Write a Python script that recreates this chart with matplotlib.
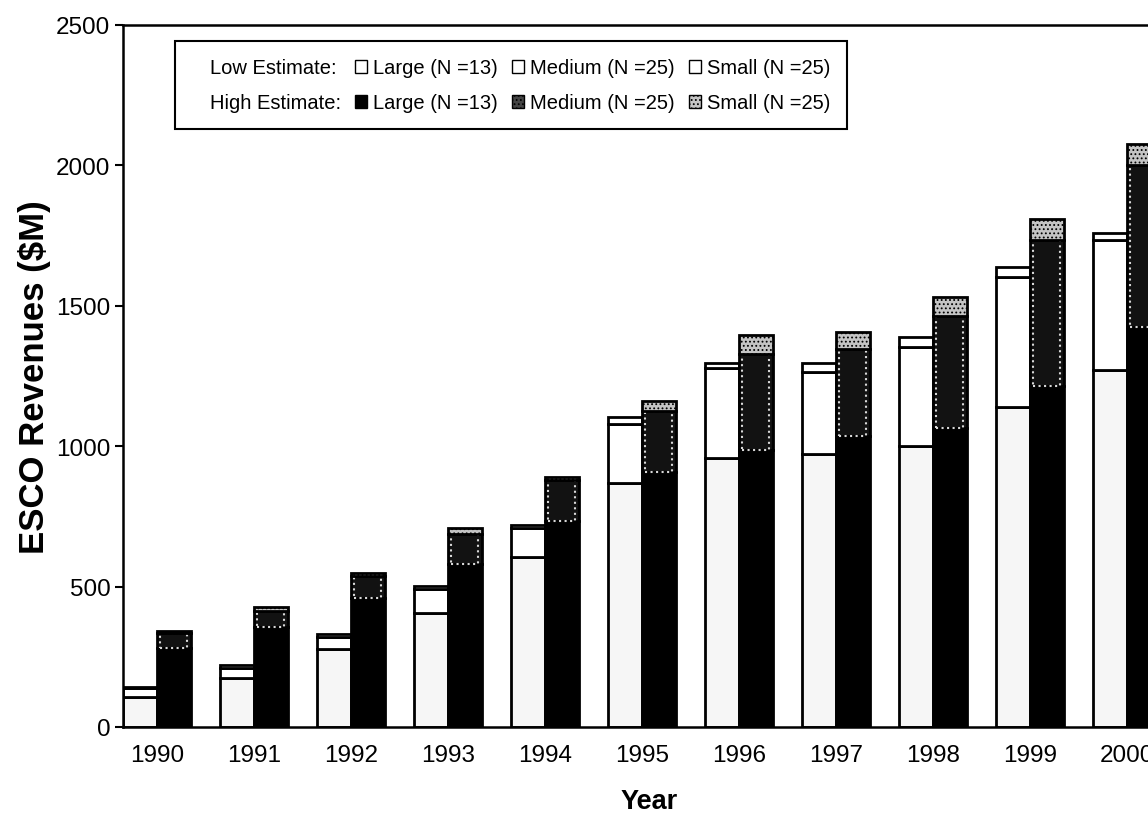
import numpy as np
import matplotlib.pyplot as plt
from matplotlib.patches import Patch
from matplotlib.lines import Line2D

plt.rcParams['font.family'] = ['Liberation Sans', 'DejaVu Sans']
plt.rcParams['hatch.linewidth'] = 0.8

# values ($M)
years = ['1990', '1991', '1992', '1993', '1994', '1995', '1996', '1997', '1998', '1999', '2000']

low_large = [108, 175, 276, 407, 606, 869, 959, 973, 1000, 1139, 1270]
low_medium = [31, 34, 46, 84, 104, 209, 320, 291, 352, 462, 465]
low_small = [5, 11, 8, 12, 11, 25, 17, 32, 38, 38, 24]

high_large = [282, 357, 461, 580, 733, 908, 985, 1035, 1064, 1216, 1425]
high_medium = [52, 57, 76, 109, 145, 219, 345, 311, 401, 519, 578]
high_small = [8, 12, 12, 18, 12, 33, 66, 60, 68, 74, 74]

low_large = np.array(low_large)
low_medium = np.array(low_medium)
low_small = np.array(low_small)
high_large = np.array(high_large)
high_medium = np.array(high_medium)
high_small = np.array(high_small)

x = np.arange(len(years))
w = 0.35
lw = 2.0

fig = plt.figure(figsize=(11.48, 8.2), dpi=100)
ax = fig.add_axes([0.1071, 0.1122, 0.9167, 0.8561])

# low estimate stack (left bar of each pair)
xl = x - w / 2
ax.bar(xl, low_large, w, color='#f6f6f6', edgecolor='black', linewidth=lw)
ax.bar(xl, low_medium, w, bottom=low_large, color='white', edgecolor='black', linewidth=lw)
ax.bar(xl, low_small, w, bottom=low_large + low_medium, color='white', edgecolor='black', linewidth=lw)

# high estimate stack (right bar of each pair)
xh = x + w / 2
ax.bar(xh, high_large, w, color='black', edgecolor='black', linewidth=lw)
ax.bar(xh, high_medium, w, bottom=high_large, color='#121212', edgecolor='black', linewidth=lw)
ax.bar(xh, high_medium, w * 0.8, bottom=high_large, fill=False, edgecolor='#d8d8d8',
       linestyle=':', linewidth=1.5)
ax.bar(xh, high_small, w, bottom=high_large + high_medium, color='#c4c4c4', edgecolor='black',
       linewidth=lw, hatch='....')

ax.set_xlim(-w, 10.5)
ax.set_ylim(0, 2500)
ax.set_yticks(np.arange(0, 2501, 500))
ax.set_xticks(x)
ax.set_xticklabels(years)
ax.tick_params(axis='x', length=0, pad=12, labelsize=17.5)
ax.tick_params(axis='y', direction='out', length=6, width=1.5, labelsize=17.5, pad=3)
for s in ['left', 'bottom', 'top']:
    ax.spines[s].set_linewidth(1.8)
ax.spines['right'].set_visible(False)

ax.set_ylabel('ESCO Revenues ($M)', fontsize=25, fontweight='bold', labelpad=4)
ax.set_xlabel('Year', fontsize=19.5, fontweight='bold', labelpad=16)

# legend: label column + three size classes
blank = Line2D([], [], linestyle='none')
handles = [blank, blank,
           Patch(facecolor='white', edgecolor='black'), Patch(facecolor='black', edgecolor='black'),
           Patch(facecolor='white', edgecolor='black'), Patch(facecolor='#444444', edgecolor='black', hatch='....'),
           Patch(facecolor='white', edgecolor='black'), Patch(facecolor='#c4c4c4', edgecolor='black', hatch='....')]
labels = ['Low Estimate:', 'High Estimate:',
          'Large (N =13)', 'Large (N =13)',
          'Medium (N =25)', 'Medium (N =25)',
          'Small (N =25)', 'Small (N =25)']
leg = ax.legend(handles, labels, ncol=4, loc='upper left', bbox_to_anchor=(0.049, 0.977),
                fontsize=14.5, frameon=True, fancybox=False, framealpha=1,
                handlelength=0.6, handleheight=0.6, handletextpad=0.3,
                columnspacing=0.7, borderpad=0.85, labelspacing=0.8, borderaxespad=0)
leg.get_frame().set_edgecolor('black')
leg.get_frame().set_linewidth(1.5)

fig.savefig('out.png', dpi=100)
